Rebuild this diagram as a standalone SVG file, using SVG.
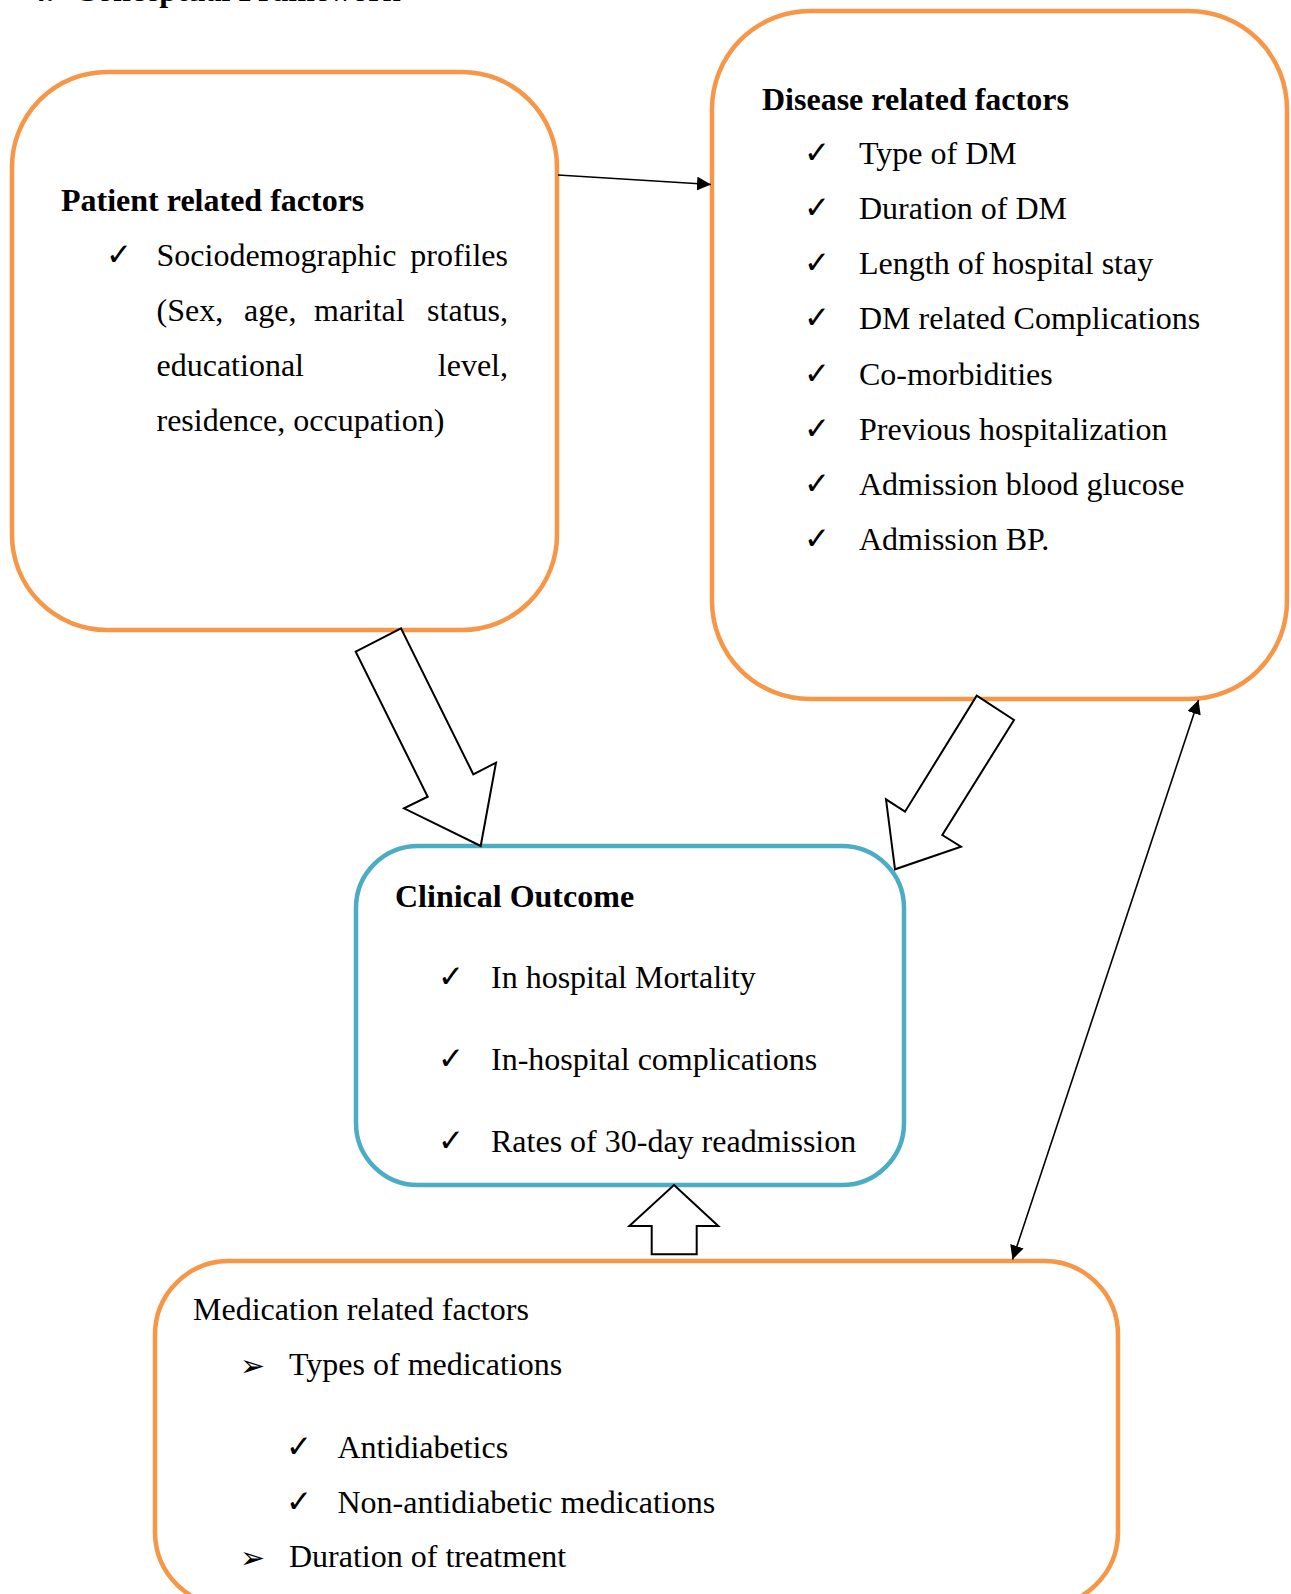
<svg xmlns="http://www.w3.org/2000/svg" width="1291" height="1594" viewBox="0 0 1291 1594">
<style>
.box{fill:#fff;stroke:#F79646;stroke-width:4.5}
.blue{fill:#fff;stroke:#4BACC6;stroke-width:4.5}
.t{font-family:"Liberation Serif","Times New Roman",serif;font-size:32px;fill:#000}
.b{font-weight:bold}
.ck{font-family:"DejaVu Sans",sans-serif;font-size:31px;fill:#000}
.ar{font-family:"DejaVu Sans",sans-serif;font-size:30px;fill:#000}
.blk{fill:#fff;stroke:#000;stroke-width:2;stroke-linejoin:miter}
.ln{stroke:#000;stroke-width:1.6;fill:none}
</style>
<defs>
<marker id="ah" markerUnits="userSpaceOnUse" markerWidth="16" markerHeight="16" refX="14" refY="7" orient="auto-start-reverse">
<path d="M0,0 L14,7 L0,14 z" fill="#000"/>
</marker>
</defs>
<text class="t b" x="30" y="0.5">4.<tspan x="74">Conceptual Framework</tspan></text>
<g id="patient">
<rect class="box" x="12" y="72" width="545" height="558" rx="95" ry="95"/>
<text class="t b" x="61" y="211">Patient related factors</text>
<text class="ck" x="106" y="265">✓</text>
<text class="t" x="156.5" y="266">Sociodemographic</text>
<text class="t" x="508" y="266" text-anchor="end">profiles</text>
<text class="t" x="156.5" y="321">(Sex,</text>
<text class="t" x="244" y="321">age,</text>
<text class="t" x="314" y="321">marital</text>
<text class="t" x="508" y="321" text-anchor="end">status,</text>
<text class="t" x="156.5" y="376">educational</text>
<text class="t" x="508" y="376" text-anchor="end">level,</text>
<text class="t" x="156.5" y="431">residence, occupation)</text>
</g>
<g id="disease">
<rect class="box" x="712" y="11" width="575" height="688" rx="98" ry="98"/>
<text class="t b" x="762" y="110">Disease related factors</text>
<text class="ck" x="804" y="162.5">✓</text><text class="t" x="859" y="163.5">Type of DM</text>
<text class="ck" x="804" y="217.5">✓</text><text class="t" x="859" y="218.5">Duration of DM</text>
<text class="ck" x="804" y="273">✓</text><text class="t" x="859" y="274">Length of hospital stay</text>
<text class="ck" x="804" y="328">✓</text><text class="t" x="859" y="329">DM related Complications</text>
<text class="ck" x="804" y="384">✓</text><text class="t" x="859" y="385">Co-morbidities</text>
<text class="ck" x="804" y="439">✓</text><text class="t" x="859" y="440">Previous hospitalization</text>
<text class="ck" x="804" y="494">✓</text><text class="t" x="859" y="495">Admission blood glucose</text>
<text class="ck" x="804" y="548.5">✓</text><text class="t" x="859" y="549.5">Admission BP.</text>
</g>
<g id="outcome">
<rect class="blue" x="356" y="846" width="548" height="339" rx="62" ry="62"/>
<text class="t b" x="395" y="906.5">Clinical Outcome</text>
<text class="ck" x="438" y="987">✓</text><text class="t" x="491" y="988">In hospital Mortality</text>
<text class="ck" x="438" y="1069">✓</text><text class="t" x="491" y="1070">In-hospital complications</text>
<text class="ck" x="438" y="1150.5">✓</text><text class="t" x="491" y="1151.5">Rates of 30-day readmission</text>
</g>
<g id="medication">
<rect class="box" x="155" y="1261" width="963" height="345" rx="74" ry="74"/>
<text class="t" x="193" y="1320">Medication related factors</text>
<text class="ar" x="240" y="1376">➢</text><text class="t" x="289" y="1375">Types of medications</text>
<text class="ck" x="286" y="1456.5">✓</text><text class="t" x="337.5" y="1457.5">Antidiabetics</text>
<text class="ck" x="286" y="1511.5">✓</text><text class="t" x="337.5" y="1512.5">Non-antidiabetic medications</text>
<text class="ar" x="240" y="1568">➢</text><text class="t" x="289" y="1567">Duration of treatment</text>
</g>
<g id="connectors">
<line class="ln" x1="558" y1="175" x2="711" y2="184.5" marker-end="url(#ah)"/>
<line class="ln" x1="1198.5" y1="700" x2="1012.5" y2="1259.5" marker-start="url(#ah)" marker-end="url(#ah)"/>
<polygon class="blk" points="401,628.3 355.7,651.7 427.7,796.7 404,808.3 480.7,846 496,762.7 473.3,774.3"/>
<polygon class="blk" points="976.7,695.7 1014,720 942.3,835 961,846.7 895,869.3 886,799.3 905,811.7"/>
<polygon class="blk" points="674,1185 718.3,1226 696.7,1226 696.7,1254.3 651.7,1254.3 651.7,1226 629.3,1226"/>
</g>
</svg>
